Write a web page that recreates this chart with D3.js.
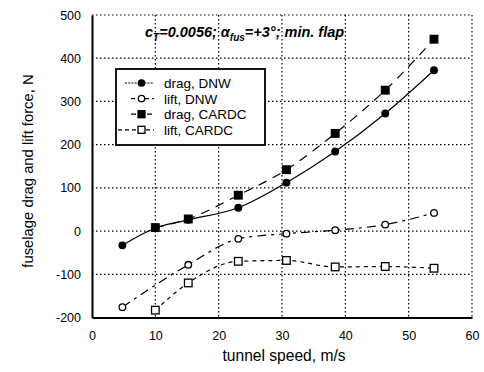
<!DOCTYPE html>
<html><head><meta charset="utf-8">
<script src="https://cdn.jsdelivr.net/npm/d3@7"></script>
<style>body{margin:0;background:#fff}svg{display:block}text{font-family:"Liberation Sans",Arial,sans-serif}</style>
</head><body><svg id="c" width="484" height="372"></svg>
<script>
const speeds = [4.8, 10, 15.2, 23.1, 30.7, 38.4, 46.3, 54.0];
const dragDNW = [-33, 7, 26, 54, 112, 184, 272, 372];
const liftDNW = [-176, null, -78, -18, -6, 2, 15, 42];
const dragCARDC = [null, 8, 28, 83, 142, 226, 326, 444];
const liftCARDC = [null, -183, -120, -70, -68, -83, -82, -86];
const xTicks = [0, 10, 20, 30, 40, 50, 60];
const yTicks = [-200, -100, 0, 100, 200, 300, 400, 500];
const seriesNames = ["drag, DNW", "lift, DNW", "drag, CARDC", "lift, CARDC"];

const svg = d3.select("#c");
const L = 92, R = 472, T = 15, B = 317.5;
const x = d3.scaleLinear().domain([0, 60]).range([L, R]);
const y = d3.scaleLinear().domain([-200, 500]).range([B, T]);

// grid
const g = svg.append("g");
xTicks.slice(1).forEach(v => g.append("line").attr("x1", x(v)).attr("x2", x(v)).attr("y1", T).attr("y2", B)
  .attr("stroke", "#000").attr("stroke-width", 1.2).attr("stroke-dasharray", "1.5,2.5"));
yTicks.slice(1).forEach(v => g.append("line").attr("x1", L).attr("x2", R).attr("y1", y(v)).attr("y2", y(v))
  .attr("stroke", "#000").attr("stroke-width", 1.2).attr("stroke-dasharray", "1.5,2.5"));

// axes
const xAxis = d3.axisBottom(x).tickValues(xTicks).tickSize(0).tickPadding(14).tickFormat(d3.format("d"));
const yAxis = d3.axisLeft(y).tickValues(yTicks).tickSize(0).tickPadding(11).tickFormat(d => d);
const gx = svg.append("g").attr("transform", `translate(0,${B})`).call(xAxis);
const gy = svg.append("g").attr("transform", `translate(${L},0)`).call(yAxis);
[gx, gy].forEach(a => { a.select(".domain").attr("stroke", "#000").attr("stroke-width", 2);
  a.selectAll("text").attr("font-size", 12.5).attr("fill", "#000"); });

// series
const styles = [
  {data: dragDNW, dash: null, sym: "circle", fill: "#000", ldash: "2,1.2"},
  {data: liftDNW, dash: "9,5,3,5", sym: "circle", fill: "#fff", ldash: "4,3"},
  {data: dragCARDC, dash: "9,7", sym: "square", fill: "#000", ldash: "5,3"},
  {data: liftCARDC, dash: "4,4", sym: "square", fill: "#fff", ldash: "4,3"}
];
const line = d3.line().defined(d => d[1] != null).x(d => x(d[0])).y(d => y(d[1])).curve(d3.curveMonotoneX);
styles.forEach(s => {
  const pts = speeds.map((v, i) => [v, s.data[i]]).filter(d => d[1] != null);
  svg.append("path").attr("d", line(pts)).attr("fill", "none").attr("stroke", "#000").attr("stroke-width", 1.2)
    .attr("stroke-dasharray", s.dash);
  pts.forEach(p => {
    if (s.sym === "circle") svg.append("circle").attr("cx", x(p[0])).attr("cy", y(p[1])).attr("r", 3.3)
      .attr("fill", s.fill).attr("stroke", "#000").attr("stroke-width", 1.3);
    else svg.append("rect").attr("x", x(p[0]) - 3.8).attr("y", y(p[1]) - 3.8).attr("width", 7.6).attr("height", 7.6)
      .attr("fill", s.fill).attr("stroke", "#000").attr("stroke-width", 1.3);
  });
});

// legend
const lg = svg.append("g");
lg.append("rect").attr("x", 116).attr("y", 69).attr("width", 149).attr("height", 76)
  .attr("fill", "#fff").attr("stroke", "#000").attr("stroke-width", 1.8);
const lx1 = [125, 131, 131, 118];
seriesNames.forEach((n, i) => {
  const yy = 83 + i * 15.6;
  const s = styles[i];
  lg.append("line").attr("x1", lx1[i]).attr("x2", 154).attr("y1", yy).attr("y2", yy).attr("stroke", "#000")
    .attr("stroke-width", 1.2).attr("stroke-dasharray", s.ldash);
  if (s.sym === "circle") lg.append("circle").attr("cx", 141.5).attr("cy", yy).attr("r", 3.2)
    .attr("fill", s.fill).attr("stroke", "#000").attr("stroke-width", 1.3);
  else lg.append("rect").attr("x", 138).attr("y", yy - 3.5).attr("width", 7).attr("height", 7)
    .attr("fill", s.fill).attr("stroke", "#000").attr("stroke-width", 1.3);
  lg.append("text").attr("x", 164).attr("y", yy + 5).attr("font-size", 13.5).text(n);
});

// title
const t = svg.append("text").attr("x", 145).attr("y", 37).attr("font-size", 14.5)
  .attr("font-style", "italic").attr("font-weight", "bold");
t.append("tspan").text("c");
t.append("tspan").attr("dy", 4).attr("font-size", 10).text("T");
t.append("tspan").attr("dy", -4).text("=0.0056; α");
t.append("tspan").attr("dy", 4).attr("font-size", 10).text("fus");
t.append("tspan").attr("dy", -4).text("=+3°; min. flap");

// axis titles
svg.append("text").attr("x", 284).attr("y", 361).attr("text-anchor", "middle").attr("font-size", 15.6).text("tunnel speed, m/s");
svg.append("text").attr("transform", `translate(33,171) rotate(-90)`).attr("text-anchor", "middle")
  .attr("font-size", 14.8).text("fuselage drag and lift force, N");
</script></body></html>
